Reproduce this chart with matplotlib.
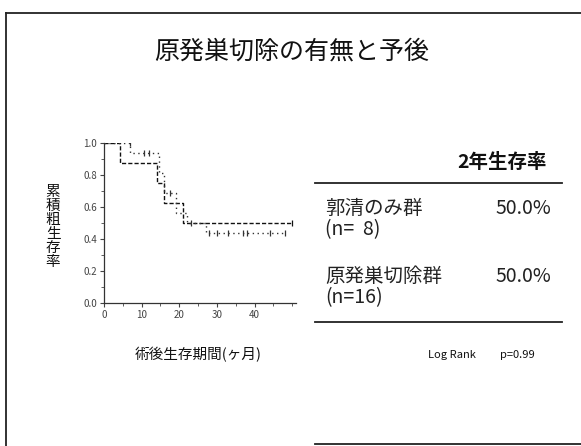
import matplotlib
matplotlib.use("Agg")
import matplotlib.pyplot as plt
from matplotlib.lines import Line2D
from matplotlib.ticker import MultipleLocator

plt.rcParams['font.family'] = ['Noto Sans CJK JP', 'DejaVu Sans']

# Kaplan-Meier step data (months, cumulative survival)
dissect_times = [0, 4.3, 14.0, 16.0, 21.0, 50.0]
dissect_surv = [1.0, 0.875, 0.75, 0.625, 0.5, 0.5]
dissect_censor_t = [50.0]
dissect_censor_s = [0.5]

resect_times = [0, 7.0, 14.5, 16.0, 19.0, 22.0, 27.0, 48.0]
resect_surv = [1.0, 0.9375, 0.8125, 0.6875, 0.5625, 0.5, 0.4375, 0.4375]
resect_censor_t = [7.0, 10.5, 12.0, 17.5, 23.0, 28.0, 30.0, 33.0, 37.0, 38.0, 44.0, 48.0]
resect_censor_s = [1.0, 0.9375, 0.9375, 0.6875, 0.5, 0.4375, 0.4375, 0.4375, 0.4375, 0.4375, 0.4375, 0.4375]

xticks = [0, 10, 20, 30, 40]
yticks = [0.0, 0.2, 0.4, 0.6, 0.8, 1.0]

groups = ["郭清のみ群", "原発巣切除群"]
group_n = ["(n=  8)", "(n=16)"]
two_year = ["50.0%", "50.0%"]

W, H = 581, 446
fig = plt.figure(figsize=(W / 100, H / 100), dpi=100)

def fx(px):
    return px / W

def fy(py):
    return 1 - py / H

# slide frame
ink = "#222222"
fig.add_artist(Line2D([fx(6), 1], [fy(13), fy(13)], color=ink, lw=1.3))
fig.add_artist(Line2D([fx(6), fx(6)], [0, fy(13)], color=ink, lw=1.3))
fig.add_artist(Line2D([fx(315), 1], [fy(444), fy(444)], color=ink, lw=1.3))

fig.text(fx(292), fy(52), "原発巣切除の有無と予後", ha="center", va="center",
         fontsize=18, color="#111111")

# survival plot
ax = fig.add_axes([fx(104), fy(303), fx(296) - fx(104), fy(143) - fy(303)])
ax.step(dissect_times, dissect_surv, where="post", color="#111111", lw=1.0,
        linestyle=(0, (3, 1.5)))
ax.plot(dissect_censor_t, dissect_censor_s, linestyle="none", marker="|",
        color="#111111", markersize=5, mew=0.9)
ax.step(resect_times, resect_surv, where="post", color="#333333", lw=1.0,
        linestyle=(0, (1, 2.5)))
ax.plot(resect_censor_t, resect_censor_s, linestyle="none", marker="|",
        color="#333333", markersize=5, mew=0.9)

ax.set_xlim(0, 51)
ax.set_ylim(0, 1.0)
ax.spines["top"].set_visible(False)
ax.spines["right"].set_visible(False)
for s in ("left", "bottom"):
    ax.spines[s].set_color("#333333")
    ax.spines[s].set_linewidth(0.9)
ax.set_xticks(xticks)
ax.set_yticks(yticks)
ax.set_yticklabels([f"{v:.1f}" for v in yticks])
ax.xaxis.set_minor_locator(MultipleLocator(5))
ax.yaxis.set_minor_locator(MultipleLocator(0.1))
ax.tick_params(axis="both", which="major", labelsize=7, length=3, width=0.8,
               colors="#444444", pad=2)
ax.tick_params(axis="both", which="minor", length=2, width=0.6, colors="#444444")
ax.patch.set_alpha(0)

fig.text(fx(53), fy(227), "\n".join("累積粗生存率"), ha="center", va="center",
         fontsize=10.5, linespacing=1.0, color="#111111")
fig.text(fx(198), fy(355), "術後生存期間(ヶ月)", ha="center", va="center",
         fontsize=10.5, color="#111111")

# summary table
fig.text(fx(457), fy(162), "2年生存率", ha="left", va="center",
         fontsize=14, fontweight="bold", color="#111111")
fig.add_artist(Line2D([fx(315), fx(562)], [fy(183), fy(183)], color=ink, lw=1.3))
rows_y = [(209, 230), (277, 298)]
for (y1, y2), name, n, pct in zip(rows_y, groups, group_n, two_year):
    fig.text(fx(325), fy(y1), name, ha="left", va="center", fontsize=14,
             color="#222222")
    fig.text(fx(325), fy(y2), n, ha="left", va="center", fontsize=14,
             color="#222222")
    fig.text(fx(495), fy(y1), pct, ha="left", va="center", fontsize=14,
             color="#222222")
fig.add_artist(Line2D([fx(315), fx(562)], [fy(322), fy(322)], color=ink, lw=1.3))

fig.text(fx(428), fy(355), "Log Rank", ha="left", va="center", fontsize=8,
         color="#111111")
fig.text(fx(500), fy(355), "p=0.99", ha="left", va="center", fontsize=8,
         color="#111111")

fig.savefig("out.png", dpi=100)
